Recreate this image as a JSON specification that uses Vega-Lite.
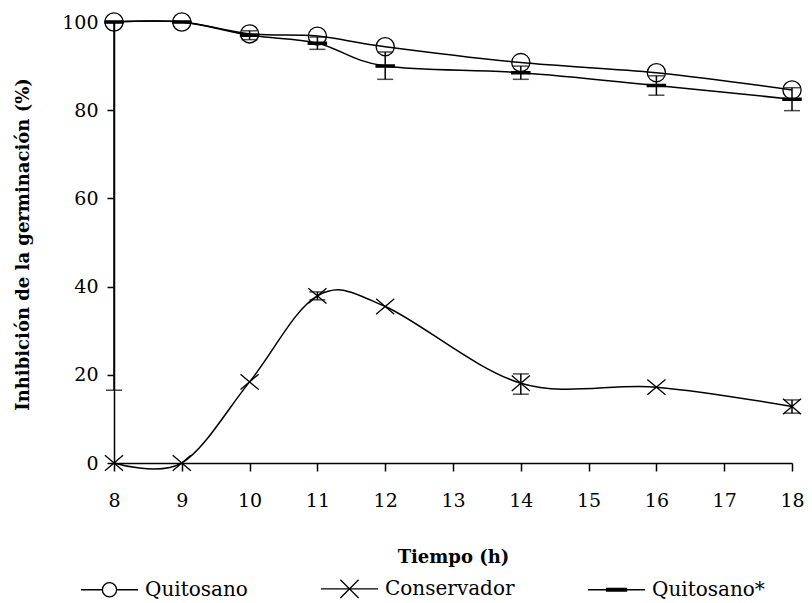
{
  "$schema": "https://vega.github.io/schema/vega-lite/v6.json",
  "width": 678,
  "height": 441,
  "autosize": "none",
  "padding": {"left": 114, "top": 22, "right": 20, "bottom": 140},
  "background": "white",
  "config": {
    "view": {"stroke": null},
    "font": "DejaVu Serif",
    "axis": {
      "domainColor": "black",
      "domainWidth": 1.5,
      "tickColor": "black",
      "tickWidth": 1.5,
      "labelColor": "black",
      "labelFont": "DejaVu Serif",
      "labelFontSize": 19,
      "titleFont": "DejaVu Serif",
      "titleFontWeight": "bold",
      "titleFontSize": 18,
      "titleColor": "black",
      "grid": false
    }
  },
  "data": {
    "values": [
      {"t": 8, "serie": "Quitosano", "v": 100},
      {"t": 9, "serie": "Quitosano", "v": 100},
      {"t": 10, "serie": "Quitosano", "v": 97.3},
      {"t": 11, "serie": "Quitosano", "v": 96.8},
      {"t": 12, "serie": "Quitosano", "v": 94.4},
      {"t": 14, "serie": "Quitosano", "v": 90.8},
      {"t": 16, "serie": "Quitosano", "v": 88.5},
      {"t": 18, "serie": "Quitosano", "v": 84.6},
      {"t": 8, "serie": "Conservador", "v": 0},
      {"t": 9, "serie": "Conservador", "v": 0},
      {"t": 10, "serie": "Conservador", "v": 18.4},
      {"t": 11, "serie": "Conservador", "v": 37.9, "lo": 37.0, "hi": 38.8},
      {"t": 12, "serie": "Conservador", "v": 35.5},
      {"t": 14, "serie": "Conservador", "v": 18.1, "lo": 15.6, "hi": 20.2},
      {"t": 16, "serie": "Conservador", "v": 17.2},
      {"t": 18, "serie": "Conservador", "v": 12.8, "lo": 11.3, "hi": 14.3},
      {"t": 8, "serie": "Quitosano*", "v": 100, "lo": 16.5, "hi": 100},
      {"t": 9, "serie": "Quitosano*", "v": 100},
      {"t": 10, "serie": "Quitosano*", "v": 97.0, "lo": 96.0, "hi": 98.0},
      {"t": 11, "serie": "Quitosano*", "v": 95.2, "lo": 93.8, "hi": 96.6},
      {"t": 12, "serie": "Quitosano*", "v": 90.0, "lo": 87.0, "hi": 93.2},
      {"t": 14, "serie": "Quitosano*", "v": 88.5, "lo": 87.0, "hi": 90.0},
      {"t": 16, "serie": "Quitosano*", "v": 85.6, "lo": 83.4, "hi": 87.8},
      {"t": 18, "serie": "Quitosano*", "v": 82.5, "lo": 79.9, "hi": 85.1}
    ]
  },
  "encoding": {
    "x": {
      "field": "t",
      "type": "quantitative",
      "scale": {"domain": [8, 18], "nice": false, "zero": false},
      "axis": {
        "title": "Tiempo (h)",
        "values": [8, 9, 10, 11, 12, 13, 14, 15, 16, 17, 18],
        "tickSize": 8,
        "labelPadding": 20,
        "labelFlush": false,
        "titleX": 339,
        "titleY": 94,
        "titleAlign": "center",
        "titleBaseline": "middle"
      }
    },
    "y": {
      "field": "v",
      "type": "quantitative",
      "scale": {"domain": [0, 100], "nice": false},
      "axis": {
        "title": "Inhibición de la germinación (%)",
        "values": [0, 20, 40, 60, 80, 100],
        "tickSize": 7,
        "labelPadding": 9,
        "labelFlush": false,
        "titleAngle": -90,
        "titleX": -91,
        "titleY": 222,
        "titleAlign": "center",
        "titleBaseline": "middle"
      }
    }
  },
  "layer": [
    {
      "mark": {"type": "line", "interpolate": "cardinal", "color": "black", "strokeWidth": 1.5},
      "encoding": {"detail": {"field": "serie"}}
    },
    {
      "transform": [{"filter": "isValid(datum.lo)"}],
      "mark": {"type": "errorbar", "ticks": {"size": 16, "color": "black", "thickness": 1.5}, "rule": {"color": "black", "strokeWidth": 1.5}},
      "encoding": {
        "y": {"field": "lo", "type": "quantitative"},
        "y2": {"field": "hi"}
      }
    },
    {
      "mark": {"type": "point", "stroke": "black", "strokeWidth": 1.3, "opacity": 1},
      "encoding": {
        "shape": {
          "field": "serie",
          "type": "nominal",
          "scale": {
            "domain": ["Quitosano", "Conservador", "Quitosano*"],
            "range": [
              "circle",
              "M-1,-0.85L1,0.85M-1,0.85L1,-0.85",
              "M-1,-0.12L1,-0.12L1,0.12L-1,0.12Z"
            ]
          },
          "legend": null
        },
        "size": {"value": 330},
        "fill": {"condition": {"test": "datum.serie === 'Quitosano*'", "value": "black"}, "value": "transparent"}
      }
    },
    {
      "transform": [{"filter": "false"}],
      "mark": {"type": "point", "stroke": "black", "strokeWidth": 1.3, "filled": false, "opacity": 1},
      "encoding": {
        "shape": {
          "field": "serie",
          "type": "nominal",
          "scale": {
            "domain": ["Quitosano", "Conservador", "Quitosano*"],
            "range": [
              "M-1,0L-0.25,0M0.25,0L1,0M-0.25,0A0.25,0.25 0 1,0 0.25,0A0.25,0.25 0 1,0 -0.25,0",
              "M-1,0L1,0M-0.32,-0.32L0.32,0.32M-0.32,0.32L0.32,-0.32",
              "M-1,0L1,0M-0.35,-0.05L0.35,-0.05L0.35,0.05L-0.35,0.05Z"
            ]
          },
          "legend": {
            "title": null,
            "orient": "none",
            "direction": "horizontal",
            "legendX": -34,
            "legendY": 537,
            "symbolSize": 3249,
            "symbolStrokeColor": "black",
            "symbolStrokeWidth": 1.3,
            "symbolFillColor": "transparent",
            "symbolOpacity": 1,
            "labelFont": "DejaVu Serif",
            "labelFontSize": 20,
            "labelColor": "black",
            "labelOffset": 6,
            "columnPadding": 70,
            "labelLimit": 300
          }
        },
        "size": {"value": 3249}
      }
    }
  ],
  "resolve": {"scale": {"shape": "independent"}, "legend": {"shape": "independent"}}
}
